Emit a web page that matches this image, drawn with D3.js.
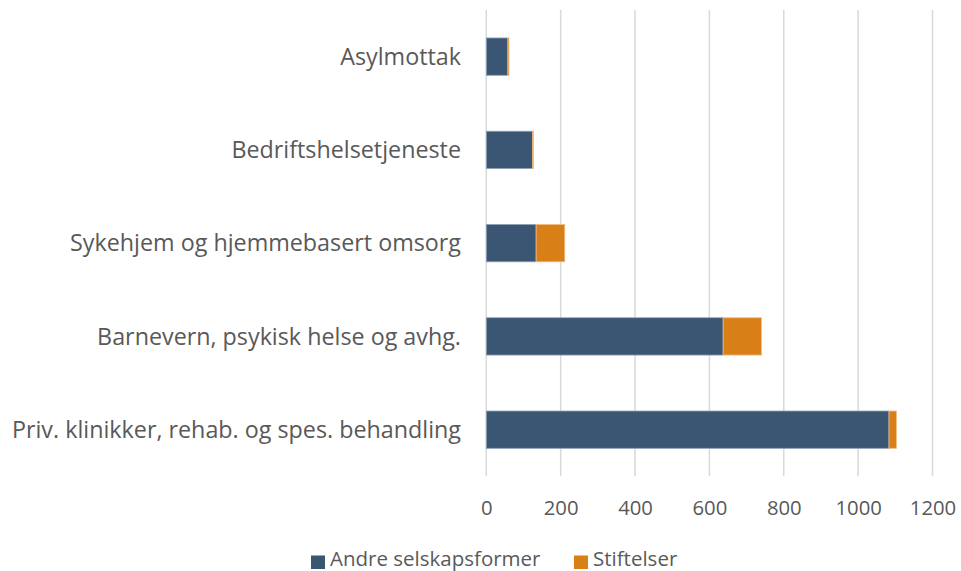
<!DOCTYPE html>
<html>
<head>
<meta charset="utf-8">
<script src="https://cdn.jsdelivr.net/npm/d3@7"></script>
<style>
  body { margin: 0; background: #fff; }
  svg { display: block; font-family: "Open Sans", sans-serif; }
</style>
</head>
<body>
<div id="chart"></div>
<script>
// stacked horizontal bars, two series per category

const categories = [
  'Asylmottak',
  'Bedriftshelsetjeneste',
  'Sykehjem og hjemmebasert omsorg',
  'Barnevern, psykisk helse og avhg.',
  'Priv. klinikker, rehab. og spes. behandling',
];
const andre = [58, 124, 134, 637, 1083];
const stiftelser = [3, 3, 77, 103, 20];
const seriesNames = ['Andre selskapsformer', 'Stiftelser'];
const xTicks = [0, 200, 400, 600, 800, 1000, 1200];

const WIDTH = 961;
const HEIGHT = 571;
const COLORS = ['#3a5673', '#d97f18'];

const rows = categories.map((c, i) => ({ cat: c, andre: andre[i], stift: stiftelser[i] }));

const x = d3.scaleLinear().domain([0, 1200]).range([486.3, 932.5]);
const y = d3.scaleBand().domain(categories).range([10, 476.3]).paddingInner(0.6).paddingOuter(0.3);

const svg = d3.select('#chart').append('svg')
  .attr('width', WIDTH)
  .attr('height', HEIGHT);

// gridlines
svg.append('g')
  .selectAll('line')
  .data(xTicks)
  .enter()
  .append('line')
  .attr('x1', d => x(d))
  .attr('x2', d => x(d))
  .attr('y1', 10)
  .attr('y2', 476.3)
  .attr('stroke', '#d9d9d9')
  .attr('stroke-width', 1.5);

const stack = d3.stack().keys(['andre', 'stift'])(rows);

svg.append('g')
  .selectAll('g')
  .data(stack)
  .enter()
  .append('g')
  .attr('fill', (d, i) => COLORS[i])
  .attr('stroke', (d, i) => i === 0 ? '#8ea0b5' : '#f0bd84')
  .attr('stroke-width', 0.8)
  .selectAll('rect')
  .data(d => d)
  .enter()
  .append('rect')
  .attr('x', d => x(d[0]))
  .attr('y', d => y(d.data.cat))
  .attr('width', d => x(d[1]) - x(d[0]))
  .attr('height', y.bandwidth());

// category labels
svg.append('g')
  .selectAll('text')
  .data(categories)
  .enter()
  .append('text')
  .attr('x', 461)
  .attr('y', d => y(d) + y.bandwidth() / 2)
  .attr('dy', '0.35em')
  .attr('text-anchor', 'end')
  .attr('fill', '#595959')
  .attr('font-size', 23.3)
  .text(d => d);

// x axis tick labels
const xAxis = d3.axisBottom(x).tickValues(xTicks).tickFormat(d3.format('d')).tickSize(0).tickPadding(0);
const ax = svg.append('g')
  .attr('transform', 'translate(0,501)')
  .call(xAxis);
ax.select('.domain').remove();
ax.selectAll('text')
  .attr('font-family', '"Open Sans", sans-serif')
  .attr('font-size', 20.3)
  .attr('fill', '#595959');

// legend, baseline sits right at the bottom edge like the original
const legend = svg.append('g').attr('transform', 'translate(311,566)');
const lx = [0, 263];
seriesNames.forEach((name, i) => {
  const g = legend.append('g').attr('transform', `translate(${lx[i]},0)`);
  g.append('rect')
    .attr('x', 0)
    .attr('y', -10.5)
    .attr('width', 14)
    .attr('height', 13.5)
    .attr('fill', COLORS[i]);
  g.append('text')
    .attr('x', 19)
    .attr('y', 0)
    .attr('fill', '#595959')
    .attr('font-size', 20.5)
    .text(name);
});
</script>
</body>
</html>
